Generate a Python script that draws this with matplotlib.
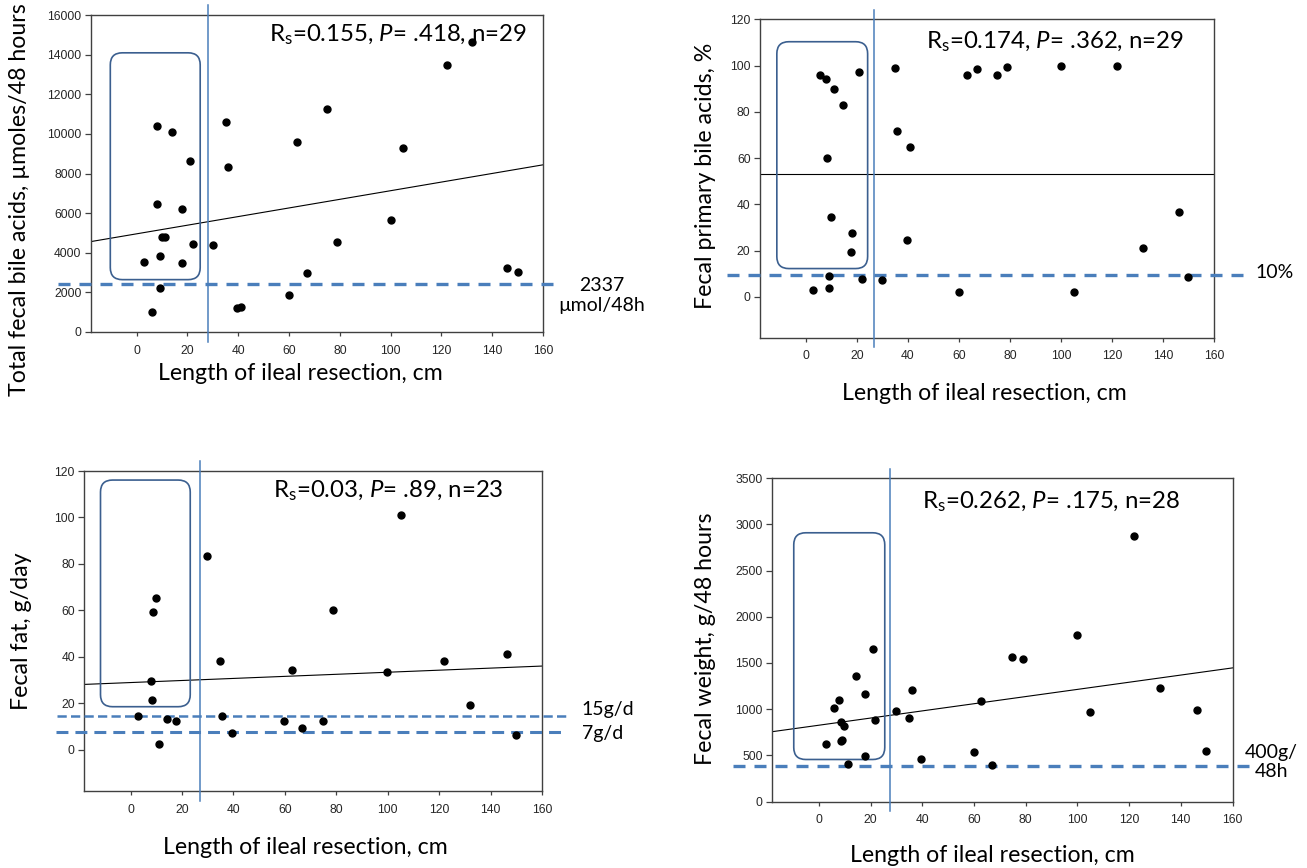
import numpy as np
import matplotlib
matplotlib.use("Agg")
import matplotlib.pyplot as plt
from matplotlib.patches import FancyBboxPatch

# ============= Data =============

# x values: length of ileal resection (cm)
xticks_cm = [0, 20, 40, 60, 80, 100, 120, 140, 160]

# A: total fecal bile acids, umoles/48 h
bile_len = [8, 14, 21, 8, 18, 10, 11, 22, 3, 9, 18, 9, 6, 30, 35, 36, 39.5, 41,
            60, 63, 67, 75, 79, 100, 105, 122, 132, 146, 150]
bile_total = [10400, 10070, 8640, 6470, 6230, 4800, 4800, 4440, 3550, 3820, 3470,
              2220, 1010, 4410, 10610, 8320, 1200, 1250, 1850, 9580, 2980, 11260,
              4530, 5660, 9290, 13470, 14660, 3220, 3030]
bile_fit = [4956, 21.76]          # intercept, slope
bile_cutoff = 2420

# B: fecal primary bile acids, %
prim_len = [5.6, 7.8, 11.2, 14.4, 20.9, 8.4, 9.8, 18.0, 17.8, 8.9, 2.9, 8.9, 21.8,
            29.9, 34.9, 35.9, 40.9, 39.7, 60, 63, 67, 74.9, 79, 100, 105, 122, 132,
            146.3, 150]
prim_pct = [95.8, 94.2, 90.0, 82.9, 97.3, 59.9, 34.7, 27.6, 19.4, 8.9, 3.0, 3.6, 7.5,
            7.3, 98.9, 71.7, 64.8, 24.6, 2.2, 95.8, 98.3, 95.8, 99.5, 99.6, 2.2, 99.8,
            21.0, 36.6, 8.5]
prim_fit = [53.1, 0.0]
prim_cutoff = 9.4

# C: fecal fat, g/day
fat_len = [9.7, 8.7, 7.8, 8.2, 2.8, 14.3, 17.5, 11.1, 29.6, 34.6, 35.7, 39.3, 59.6,
           62.7, 66.8, 74.9, 78.9, 99.9, 105, 122, 131.9, 146.2, 150]
fat_gday = [65.5, 59.3, 29.4, 21.4, 14.4, 13.4, 12.3, 2.3, 83.4, 38.3, 14.4, 7.2,
            12.3, 34.3, 9.5, 12.3, 60.3, 33.5, 101.2, 38.3, 19.4, 41.4, 6.3]
fat_fit = [28.9, 0.0444]
fat_cutoffs = [14.4, 7.8]

# D: fecal weight, g/48 h
wt_len = [20.8, 14.4, 17.7, 7.8, 5.7, 8.4, 9.8, 21.8, 2.9, 8.9, 8.6, 17.8, 11.1,
          29.9, 35.9, 34.8, 39.5, 60.0, 62.9, 66.9, 74.8, 78.8, 99.8, 104.8, 121.8,
          131.9, 146.1, 149.9]
wt_g48h = [1653, 1364, 1165, 1103, 1013, 865, 821, 883, 619, 669, 650, 488, 402,
           984, 1208, 908, 456, 532, 1093, 391, 1563, 1545, 1805, 966, 2880, 1230,
           995, 550]
wt_fit = [826, 3.88]
wt_cutoff = 380

# ============= Style =============

W, H = 1307, 868
BLUE = "#4A7EBB"
BOX = "#3B5F8F"
SANS = ["Lato", "DejaVu Sans"]
TICKFONT = "Liberation Sans"
LABEL_SIZE = 16.7
NOTE_SIZE = 17.3
CUT_SIZE = 14

plt.rcParams["mathtext.fontset"] = "custom"
plt.rcParams["mathtext.rm"] = "Lato"
plt.rcParams["mathtext.it"] = "Lato:italic"

fig = plt.figure(figsize=(W / 100, H / 100), dpi=100)


def px(x, y):
    return x / W, 1 - y / H


def add_panel(l, t, r, b, ylim, yticks):
    ax = fig.add_axes([l / W, 1 - b / H, (r - l) / W, (b - t) / H])
    ax.set_xlim(-18, 160)
    ax.set_ylim(*ylim)
    ax.set_xticks(xticks_cm)
    ax.set_yticks(yticks)
    ax.tick_params(labelsize=8.7, labelfontfamily=TICKFONT, color="#404040",
                   labelcolor="#262626", width=0.9)
    ax.tick_params(axis="x", length=3.2, pad=6)
    ax.tick_params(axis="y", length=4.3, pad=2.5)
    for s in ax.spines.values():
        s.set_color("#404040")
        s.set_linewidth(1.0)
    return ax


def draw(ax, x, y, fit, vline, box, radius_px=12):
    xs = np.array(ax.get_xlim())
    ax.plot(xs, fit[0] + fit[1] * xs, color="black", lw=0.8, zorder=2)
    ax.plot(x, y, "o", color="black", ms=5, zorder=4)
    ax.plot([vline, vline], [-0.03, 1.03], transform=ax.get_xaxis_transform(),
            color=BLUE, lw=1.1, clip_on=False, zorder=3)
    pos = ax.get_position()
    x0, x1 = ax.get_xlim()
    y0, y1 = ax.get_ylim()
    ux = (x1 - x0) / (pos.width * W)
    uy = (y1 - y0) / (pos.height * H)
    patch = FancyBboxPatch((box[0], box[2]), box[1] - box[0], box[3] - box[2],
                           boxstyle="round,pad=0,rounding_size=%f" % (radius_px * ux),
                           mutation_aspect=uy / ux, fill=False, ec=BOX, lw=1.2,
                           zorder=3)
    ax.add_patch(patch)


def cutoff(ax, yv, x0, x1, lw=2.4, dash=(3.6, 2.7)):
    ax.plot([x0, x1], [yv, yv], transform=ax.get_yaxis_transform(), color=BLUE,
            lw=lw, linestyle=(0, dash), clip_on=False, zorder=3)


# ============= Panels =============

ax1 = add_panel(91, 15, 543, 332, (0, 16000), np.arange(0, 16001, 2000))
draw(ax1, bile_len, bile_total, bile_fit, 28, (-10.4, 25.0, 2643, 14091))
cutoff(ax1, bile_cutoff, -0.073, 1.038)

ax2 = add_panel(760, 19.3, 1214, 337.7, (-17.7, 120), np.arange(0, 121, 20))
draw(ax2, prim_len, prim_pct, prim_fit, 26.8, (-11.4, 24.2, 12.2, 110.3))
cutoff(ax2, prim_cutoff, -0.073, 1.07)

ax3 = add_panel(84.3, 471, 542, 791, (-17.8, 120), np.arange(0, 121, 20))
draw(ax3, fat_len, fat_gday, fat_fit, 27.1, (-11.7, 23.2, 18.5, 116.1))
cutoff(ax3, fat_cutoffs[0], -0.059, 1.059, lw=1.8, dash=(3.7, 1.7))
cutoff(ax3, fat_cutoffs[1], -0.061, 1.052, lw=2.2, dash=(3.9, 2.3))

ax4 = add_panel(772.3, 478.3, 1232.5, 801.5, (0, 3500), np.arange(0, 3501, 500))
draw(ax4, wt_len, wt_g48h, wt_fit, 27.5, (-9.7, 25.5, 455, 2910))
cutoff(ax4, wt_cutoff, -0.085, 1.04)

# ============= Text =============

xlab = "Length of ileal resection, cm"
for (x, y) in [(300, 374), (984, 393), (305, 847), (992, 856)]:
    fig.text(*px(x, y), xlab, ha="center", va="center", family=SANS,
             fontsize=LABEL_SIZE)

ylabs = [("Total fecal bile acids, µmoles/48 hours", 20, 200),
         ("Fecal primary bile acids, %", 705, 176),
         ("Fecal fat, g/day", 22, 631),
         ("Fecal weight, g/48 hours", 705, 639)]
for s, x, y in ylabs:
    fig.text(*px(x, y), s, ha="center", va="center", rotation=90, family=SANS,
             fontsize=LABEL_SIZE)

notes = [(r"R$_\mathrm{s}$=0.155, $\mathit{P}$= .418, n=29", 269, 41.7),
         (r"R$_\mathrm{s}$=0.174, $\mathit{P}$= .362, n=29", 926, 48.3),
         (r"R$_\mathrm{s}$=0.03, $\mathit{P}$= .89, n=23", 273, 497.3),
         (r"R$_\mathrm{s}$=0.262, $\mathit{P}$= .175, n=28", 922, 508.3)]
for s, x, y in notes:
    fig.text(*px(x, y), s, ha="left", va="baseline", family=SANS, fontsize=NOTE_SIZE)

fig.text(*px(602, 295.5), "2337\nµmol/48h", ha="center", va="center",
         multialignment="center", family=SANS, fontsize=CUT_SIZE, linespacing=1.15)
fig.text(*px(1255, 272.3), "10%", ha="left", va="center", family=SANS,
         fontsize=CUT_SIZE)
fig.text(*px(581.7, 710), "15g/d", ha="left", va="center", family=SANS,
         fontsize=CUT_SIZE)
fig.text(*px(581.7, 734), "7g/d", ha="left", va="center", family=SANS,
         fontsize=CUT_SIZE)
fig.text(*px(1271.7, 761.7), "400g/\n48h", ha="center", va="center",
         multialignment="center", family=SANS, fontsize=CUT_SIZE, linespacing=1.15)

fig.savefig("out.png", dpi=100)
